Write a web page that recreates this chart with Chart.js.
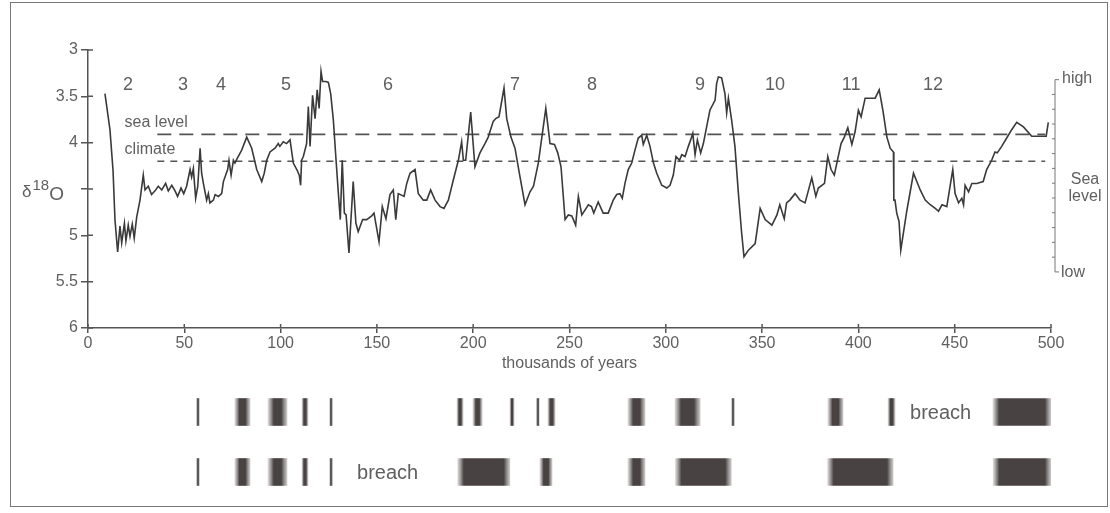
<!DOCTYPE html>
<html lang="en">
<head>
<meta charset="UTF-8" />
<script src="https://cdn.jsdelivr.net/npm/chart.js"></script>
<title>d18O record</title>
<style>
  body { margin: 0; background: #fff; }
  #wrap { position: relative; width: 1110px; height: 513px; overflow: hidden; }
  #frame { position: absolute; left: 10px; top: 2px; width: 1098px; height: 505px;
           border: 1.5px solid #777; box-sizing: border-box; }
  #curve { position: absolute; left: 0; top: 0; }
  #bars { position: absolute; left: 0; top: 380px; }
</style>
</head>
<body>
<div id="wrap">
  <div id="frame"></div>
  <canvas id="curve" width="1110" height="380"></canvas>
  <canvas id="bars" width="1110" height="133"></canvas>
</div>
<script>
// oxygen isotope curve, thousands of years vs delta 18O
const years = [
  8.8, 11.4, 13.0, 14.0, 15.4, 16.6, 17.5, 18.9, 19.7, 20.9,
  21.8, 23.0, 24.0, 25.3, 27.0, 28.7, 29.6, 31.3, 33.0, 34.8,
  36.5, 38.3, 40.3, 41.7, 43.5, 45.2, 46.5, 48.3, 49.7, 51.2,
  53.0, 53.8, 54.7, 55.9, 57.0, 58.2, 59.0, 59.9, 61.6, 62.5,
  63.3, 65.1, 66.0, 67.7, 69.4, 70.3, 72.5, 73.2, 74.3, 75.5,
  76.3, 77.2, 79.8, 82.4, 85.0, 87.6, 90.2, 91.5, 92.8, 94.5,
  97.1, 98.8, 99.6, 101.4, 103.1, 104.9, 106.6, 108.4, 109.7, 110.4,
  110.9, 111.8, 113.5, 114.4, 115.3, 116.6, 117.9, 119.0, 120.0, 121.0,
  121.8, 123.5, 124.8, 126.0, 127.4, 128.8, 130.0, 131.0, 132.0, 133.1,
  134.0, 135.5, 137.7, 139.1, 140.3, 142.6, 144.7, 147.3, 148.5, 151.1,
  152.8, 154.7, 156.8, 158.5, 159.8, 161.1, 164.1, 165.5, 167.2, 169.8,
  171.5, 174.1, 175.9, 177.9, 180.2, 182.8, 184.8, 187.1, 189.7, 192.3,
  194.0, 194.9, 196.1, 198.7, 200.9, 203.5, 206.1, 207.8, 210.4, 211.7,
  213.4, 216.0, 217.4, 219.6, 221.7, 224.3, 226.9, 229.5, 231.3, 233.8,
  237.7, 239.9, 242.2, 243.9, 245.6, 247.7, 249.4, 251.2, 253.2, 254.6,
  256.4, 259.8, 261.4, 262.6, 264.9, 267.5, 270.1, 272.7, 274.5, 276.2,
  277.4, 278.8, 280.5, 282.3, 284.0, 285.7, 287.5, 288.3, 290.1, 291.8,
  293.6, 295.3, 297.9, 300.5, 302.2, 303.9, 305.3, 307.1, 308.3, 310.0,
  311.7, 312.9, 314.0, 315.2, 316.4, 318.1, 319.5, 321.2, 322.9, 325.6,
  326.4, 327.3, 329.0, 330.7, 331.6, 332.5, 334.2, 335.9, 337.7, 339.4,
  340.6, 342.9, 346.4, 349.0, 351.6, 355.1, 357.7, 359.2, 361.5, 362.7,
  364.4, 367.1, 369.7, 372.3, 375.8, 377.9, 379.2, 382.4, 384.1, 385.8,
  387.5, 388.8, 391.0, 392.7, 394.5, 396.6, 398.3, 400.0, 401.4, 403.5,
  406.1, 408.7, 410.8, 412.7, 414.8, 416.5, 418.2, 418.4, 419.0, 419.9,
  421.1, 422.0, 425.1, 428.6, 432.1, 434.7, 437.3, 439.9, 441.6, 443.4,
  445.9, 449.0, 450.2, 452.0, 453.7, 454.6, 455.4, 457.2, 458.9, 461.5,
  463.1, 464.8, 466.6, 469.2, 470.9, 472.1, 474.4, 477.0, 479.6, 482.2,
  485.7, 490.0, 497.5, 498.6
];
const d18O = [
  3.47, 3.86, 4.30, 4.83, 5.18, 4.90, 5.08, 4.87, 5.06, 4.89,
  5.01, 4.88, 5.03, 4.80, 4.62, 4.35, 4.51, 4.47, 4.56, 4.52,
  4.47, 4.51, 4.44, 4.52, 4.46, 4.52, 4.58, 4.49, 4.55, 4.47,
  4.29, 4.37, 4.28, 4.60, 4.47, 4.06, 4.33, 4.44, 4.62, 4.55,
  4.65, 4.62, 4.56, 4.58, 4.55, 4.42, 4.29, 4.19, 4.35, 4.19,
  4.22, 4.18, 4.08, 3.94, 4.06, 4.29, 4.42, 4.33, 4.19, 4.10,
  4.06, 4.01, 4.04, 3.99, 4.01, 3.97, 4.22, 4.29, 4.35, 4.46,
  4.19, 4.15, 4.01, 3.61, 4.04, 3.49, 3.74, 3.43, 3.63, 3.23,
  3.34, 3.34, 3.35, 3.47, 3.76, 4.19, 4.55, 4.83, 4.19, 4.76,
  4.78, 5.19, 4.42, 4.87, 4.96, 4.83, 4.83, 4.79, 4.76, 5.07,
  4.69, 4.82, 4.56, 4.51, 4.83, 4.55, 4.58, 4.44, 4.33, 4.29,
  4.55, 4.62, 4.62, 4.51, 4.62, 4.69, 4.71, 4.62, 4.40, 4.19,
  3.99, 4.19, 4.19, 3.67, 4.26, 4.11, 4.01, 3.94, 3.77, 3.74,
  3.72, 3.41, 3.74, 3.94, 4.06, 4.37, 4.67, 4.53, 4.47, 4.22,
  3.63, 4.01, 4.02, 4.11, 4.26, 4.83, 4.78, 4.79, 4.89, 4.58,
  4.78, 4.67, 4.69, 4.76, 4.64, 4.76, 4.76, 4.62, 4.56, 4.55,
  4.60, 4.44, 4.29, 4.22, 4.08, 3.95, 3.92, 4.02, 3.92, 4.04,
  4.22, 4.33, 4.46, 4.49, 4.46, 4.35, 4.15, 4.19, 4.13, 4.15,
  4.04, 3.97, 3.90, 4.13, 3.97, 4.11, 4.01, 3.83, 3.65, 3.54,
  3.36, 3.29, 3.30, 3.47, 3.68, 3.52, 3.76, 4.04, 4.55, 4.98,
  5.23, 5.16, 5.09, 4.71, 4.83, 4.89, 4.78, 4.67, 4.82, 4.65,
  4.62, 4.55, 4.62, 4.65, 4.38, 4.58, 4.49, 4.44, 4.15, 4.29,
  4.35, 4.22, 4.01, 3.94, 3.84, 4.02, 3.88, 3.65, 3.72, 3.52,
  3.52, 3.52, 3.43, 3.65, 3.94, 4.06, 4.10, 4.62, 4.62, 4.76,
  4.85, 5.16, 4.74, 4.33, 4.51, 4.62, 4.67, 4.71, 4.74, 4.67,
  4.69, 4.29, 4.55, 4.65, 4.60, 4.67, 4.46, 4.53, 4.44, 4.44,
  4.43, 4.42, 4.29, 4.19, 4.10, 4.11, 4.04, 3.95, 3.86, 3.78,
  3.83, 3.93, 3.93, 3.78
];

const xTicks = [0, 50, 100, 150, 200, 250, 300, 350, 400, 450, 500];
const yTicks = [3, 3.5, 4, 4.5, 5, 5.5, 6];

// reference lines
const refLineYears = [36, 497];
const seaLevelRef = 3.91;
const climateRef = 4.2;
const refNames = ['sea level', 'climate'];
const refNameLevels = [3.78, 4.07];
const refNameYear = 19;

// isotope stage numbers
const stageNames = ['2', '3', '4', '5', '6', '7', '8', '9', '10', '11', '12'];
const stageYears = [20.8, 49.3, 69, 102.8, 155.8, 221.7, 261.7, 317.8, 356.7, 396.2, 438.7];
const stageLevel = 3.38;

// right hand sea level scale
const seaScaleTop = 3.32;
const seaScaleBottom = 5.395;
const seaScaleSteps = 13;

// bars below: two rows of deposits
const rowNames = ['row1', 'row2'];
const row1Bars = [[56.6, 57.6], [76.3, 84.1], [93.5, 103.3], [111.1, 114.2], [125.7, 126.7],
  [191.6, 194.7], [199.9, 204.6], [219.1, 221.2], [233.1, 234.1], [238.8, 242.5],
  [280.4, 289.2], [304.8, 317.8], [334.4, 335.4], [384.2, 392], [415.4, 419], [469.9, 500]];
const row2Bars = [[56.6, 57.6], [76.3, 84.1], [93.5, 103.3], [111.1, 114.2], [125.7, 126.7],
  [192, 219], [234.7, 240.9], [280.4, 289.2], [305, 334], [384, 418], [470, 500]];
const breachYears = [426.8, 139.7];

const axisColor = '#555';
const textColor = '#5f5f5f';
const fontFamily = '"Liberation Sans", Arial, sans-serif';

const annotate = {
  id: 'annotate',
  afterDraw(chart) {
    const { ctx, chartArea } = chart;
    const x = chart.scales.x, y = chart.scales.y;
    ctx.save();

    // inner half of the crossing tick marks
    ctx.strokeStyle = axisColor;
    ctx.lineWidth = 1.5;
    ctx.beginPath();
    x.ticks.forEach(t => {
      const px = x.getPixelForValue(t.value);
      ctx.moveTo(px, chartArea.bottom);
      ctx.lineTo(px, chartArea.bottom - 4);
    });
    y.ticks.forEach(t => {
      const py = y.getPixelForValue(t.value);
      ctx.moveTo(chartArea.left, py);
      ctx.lineTo(chartArea.left + 5, py);
    });
    ctx.stroke();

    ctx.fillStyle = textColor;
    ctx.textBaseline = 'middle';

    // stage numbers
    ctx.font = '18px ' + fontFamily;
    ctx.textAlign = 'center';
    stageNames.forEach((s, i) => {
      ctx.fillText(s, x.getPixelForValue(stageYears[i]), y.getPixelForValue(stageLevel));
    });

    // reference line names
    ctx.font = '16px ' + fontFamily;
    ctx.textAlign = 'left';
    refNames.forEach((s, i) => {
      ctx.fillText(s, x.getPixelForValue(refNameYear), y.getPixelForValue(refNameLevels[i]));
    });

    // y title: delta 18 O
    const base = y.getPixelForValue(4.5);
    ctx.textBaseline = 'alphabetic';
    let tx = 22;
    ctx.font = '17px ' + fontFamily;
    ctx.fillText('δ', tx, base + 8);
    tx += ctx.measureText('δ').width + 1;
    ctx.font = '15px ' + fontFamily;
    ctx.fillText('18', tx, base + 1);
    tx += ctx.measureText('18').width;
    ctx.font = '19px ' + fontFamily;
    ctx.fillText('O', tx, base + 11);

    // sea level scale on the right
    const ax = chartArea.right + 4;
    const top = y.getPixelForValue(seaScaleTop);
    const bot = y.getPixelForValue(seaScaleBottom);
    ctx.strokeStyle = '#777';
    ctx.lineWidth = 1;
    ctx.beginPath();
    ctx.moveTo(ax + 4, top);
    ctx.lineTo(ax, top);
    ctx.lineTo(ax, bot);
    ctx.lineTo(ax + 4, bot);
    for (let i = 1; i < seaScaleSteps; i++) {
      const py = top + (bot - top) * i / seaScaleSteps;
      ctx.moveTo(ax, py);
      ctx.lineTo(ax - 3, py);
    }
    ctx.stroke();
    ctx.font = '16px ' + fontFamily;
    ctx.textBaseline = 'middle';
    ctx.textAlign = 'left';
    ctx.fillText('high', ax + 7, top - 1);
    ctx.fillText('low', ax + 6, bot + 1);
    ctx.textAlign = 'center';
    const mid = (top + bot) / 2;
    ctx.fillText('Sea', ax + 30, mid + 4);
    ctx.fillText('level', ax + 30, mid + 21);

    ctx.restore();
  }
};

new Chart(document.getElementById('curve'), {
  type: 'line',
  data: {
    datasets: [
      {
        data: years.map((t, i) => ({ x: t, y: d18O[i] })),
        borderColor: '#3a3a3a',
        borderWidth: 1.6,
        pointRadius: 0,
        tension: 0,
      },
      {
        data: refLineYears.map(t => ({ x: t, y: seaLevelRef })),
        borderColor: '#555',
        borderWidth: 1.6,
        borderDash: [14, 8],
        pointRadius: 0,
      },
      {
        data: refLineYears.map(t => ({ x: t, y: climateRef })),
        borderColor: '#555',
        borderWidth: 1.6,
        borderDash: [7, 6],
        pointRadius: 0,
      },
    ],
  },
  options: {
    responsive: false,
    animation: false,
    layout: { padding: { left: 0, right: 59, top: 50, bottom: 0 } },
    plugins: { legend: { display: false }, tooltip: { enabled: false } },
    scales: {
      x: {
        type: 'linear',
        min: 0,
        max: 500,
        afterBuildTicks: s => { s.ticks = xTicks.map(v => ({ value: v })); },
        afterFit: s => { s.height = 52; },
        grid: { drawOnChartArea: false, color: axisColor, lineWidth: 1.5, tickLength: 5 },
        border: { color: axisColor, width: 1.5 },
        ticks: { color: textColor, font: { size: 16, family: fontFamily }, padding: 1, maxRotation: 0 },
        title: {
          display: true,
          text: 'thousands of years',
          color: textColor,
          font: { size: 16, family: fontFamily },
          padding: { top: 0, bottom: 7 },
        },
      },
      y: {
        type: 'linear',
        reverse: true,
        min: 3,
        max: 6,
        afterBuildTicks: s => { s.ticks = yTicks.map(v => ({ value: v })); },
        afterFit: s => { s.width = 88; },
        grid: { drawOnChartArea: false, color: axisColor, lineWidth: 1.5, tickLength: 7 },
        border: { color: axisColor, width: 1.5 },
        ticks: {
          color: textColor,
          font: { size: 16, family: fontFamily },
          padding: 3,
          callback: v => (v === 4.5 ? '' : String(v)),
        },
      },
    },
  },
  plugins: [annotate],
});

// dark block with soft left and right edges
function barFill(c) {
  const chart = c.chart;
  const raw = c.raw;
  const xs = chart.scales && chart.scales.x;
  if (!raw || !xs) return '#4a4545';
  const a = xs.getPixelForValue(raw.x[0]);
  const b = xs.getPixelForValue(raw.x[1]);
  if (!isFinite(a) || !isFinite(b) || b - a < 4) return '#5c5858';
  const g = chart.ctx.createLinearGradient(a, 0, b, 0);
  const edge = Math.min(0.3, 6 / (b - a));
  g.addColorStop(0, 'rgba(110,100,100,0.25)');
  g.addColorStop(edge, '#484242');
  g.addColorStop(1 - edge, '#484242');
  g.addColorStop(1, 'rgba(110,100,100,0.35)');
  return g;
}

const breachLabels = {
  id: 'breachLabels',
  afterDraw(chart) {
    const { ctx } = chart;
    const x = chart.scales.x, y = chart.scales.y;
    ctx.save();
    ctx.fillStyle = textColor;
    ctx.font = '20px ' + fontFamily;
    ctx.textAlign = 'left';
    ctx.textBaseline = 'middle';
    breachYears.forEach((t, i) => {
      ctx.fillText('breach', x.getPixelForValue(t), y.getPixelForValue(i) + 1);
    });
    ctx.restore();
  }
};

new Chart(document.getElementById('bars'), {
  type: 'bar',
  data: {
    labels: rowNames,
    datasets: [
      {
        data: row1Bars.map(b => ({ x: b, y: rowNames[0] })),
        backgroundColor: barFill,
        grouped: false,
        barThickness: 27,
        borderWidth: 0,
      },
      {
        data: row2Bars.map(b => ({ x: b, y: rowNames[1] })),
        backgroundColor: barFill,
        grouped: false,
        barThickness: 27,
        borderWidth: 0,
      },
    ],
  },
  options: {
    indexAxis: 'y',
    responsive: false,
    animation: false,
    layout: { padding: { left: 88, right: 59, top: 2, bottom: 11 } },
    plugins: { legend: { display: false }, tooltip: { enabled: false } },
    scales: {
      x: { type: 'linear', min: 0, max: 500, display: false },
      y: { type: 'category', display: false },
    },
  },
  plugins: [breachLabels],
});
</script>
</body>
</html>
